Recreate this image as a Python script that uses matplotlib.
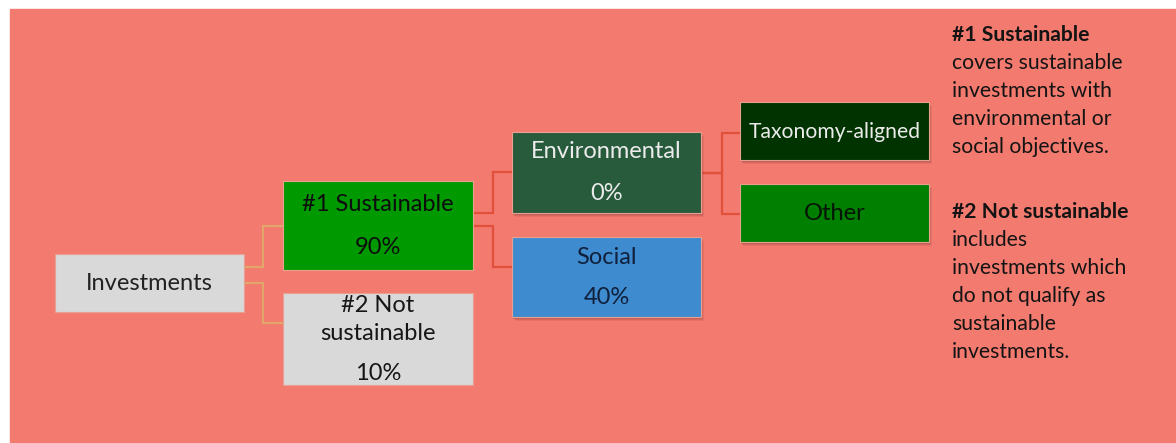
import matplotlib.pyplot as plt
from matplotlib.patches import Rectangle

# chart content
node_names = ["Investments", "#1 Sustainable", "#2 Not\nsustainable", "Environmental",
              "Social", "Taxonomy-aligned", "Other"]
node_shares = [None, "90%", "10%", "0%", "40%", None, None]
edges = [(0, 1), (0, 2), (1, 3), (1, 4), (3, 5), (3, 6)]

note_heads = ["#1 Sustainable", "#2 Not sustainable"]
note_bodies = [["covers sustainable", "investments with", "environmental or", "social objectives."],
               ["includes", "investments which", "do not qualify as", "sustainable", "investments."]]

# layout in pixels: x0, y0, x1, y1
boxes = [(55, 254, 244, 312), (283, 181, 473, 270), (283, 293, 473, 385),
         (512, 132, 701, 213), (512, 237, 701, 317), (740, 102, 929, 160),
         (740, 184, 929, 242)]
fills = ["#d9d9d9", "#009900", "#d9d9d9", "#285a3c", "#3f8bd0", "#003300", "#007f00"]
text_cols = ["#222222", "#0d0d0d", "#161616", "#ececec", "#10203a", "#ececec", "#061406"]
shadow = [False, False, False, True, True, True, True]
# y of label line and share line
label_y = [283, 204, 305, 152, 257, 132, 213]
share_y = [None, 247, 373, 193, 298, None, None]
# connectors: start y, end y, elbow x, colour
conn = [(267, 226, 263, "#e2a66a"), (283, 323, 263, "#e2a66a"),
        (213, 172, 493, "#e0503a"), (226, 267, 493, "#e0503a"),
        (173, 133, 722, "#e0503a"), (173, 214, 722, "#e0503a")]

W, H = 1176, 443
fig = plt.figure(figsize=(W / 100, H / 100), dpi=100)
ax = fig.add_axes([0, 0, 1, 1])
ax.set_xlim(0, W)
ax.set_ylim(H, 0)
ax.axis("off")
fig.patch.set_facecolor("white")
ax.add_patch(Rectangle((10, 9), W - 10, H - 9, color="#f27a6e", zorder=0))

font = ["Lato", "DejaVu Sans"]

for (a, b), (ys, ye, xe, c) in zip(edges, conn):
    xs = boxes[a][2]
    xt = boxes[b][0]
    ax.plot([xs, xe, xe, xt], [ys, ys, ye, ye], color=c, lw=1.6, zorder=1,
            solid_joinstyle="miter")

for i, name in enumerate(node_names):
    x0, y0, x1, y1 = boxes[i]
    if shadow[i]:
        for off, al in [(4, 0.12), (3, 0.18), (2, 0.25)]:
            ax.add_patch(Rectangle((x0 + off - 1, y0 + off), x1 - x0, y1 - y0,
                                   color="#8a4038", alpha=al, lw=0, zorder=2))
    ax.add_patch(Rectangle((x0, y0), x1 - x0, y1 - y0, facecolor=fills[i],
                           edgecolor="#e8a090", lw=0.8, zorder=3))
    cx = (x0 + x1) / 2
    if "\n" in name:
        for k, part in enumerate(name.split("\n")):
            ax.text(cx, label_y[i] + 28 * k, part, ha="center", va="center",
                    fontsize=17, color=text_cols[i], family=font, zorder=4)
    else:
        fs = 15.2 if name == "Taxonomy-aligned" else 17
        ax.text(cx, label_y[i], name, ha="center", va="center", fontsize=fs,
                color=text_cols[i], family=font, zorder=4)
    if node_shares[i]:
        ax.text(cx, share_y[i], node_shares[i], ha="center", va="center",
                fontsize=17, color=text_cols[i], family=font, zorder=4)

note_y = [35, 212]
for head, body, y in zip(note_heads, note_bodies, note_y):
    ax.text(952, y, head, ha="left", va="center", fontsize=15.2, fontweight="bold",
            color="#141414", family=font)
    for k, line in enumerate(body):
        ax.text(952, y + 28 * (k + 1), line, ha="left", va="center", fontsize=15.2,
                color="#141414", family=font)

fig.savefig("out.png", dpi=100)
